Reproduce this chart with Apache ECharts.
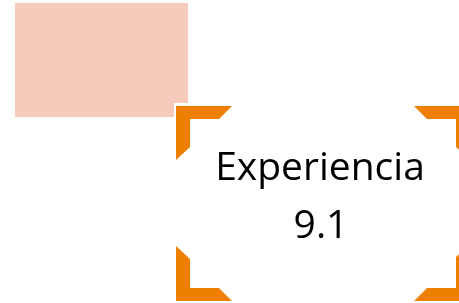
<!DOCTYPE html>
<html>
<head>
<meta charset="utf-8">
<script src="https://cdn.jsdelivr.net/npm/echarts@6/dist/echarts.min.js"></script>
<style>html,body{margin:0;padding:0;background:#fff}#c{width:459px;height:303px}</style>
</head>
<body>
<div id="c"></div>
<script>
const kpiLabels = ['Experiencia'];
const kpiValues = [9.1];

const chart = echarts.init(document.getElementById('c'), null, {renderer: 'canvas'});
const orange = '#EF7F00';
const FONT = '"Open Sans", sans-serif';
function poly(points) {
  return {type: 'polygon', shape: {points: points}, style: {fill: orange}, silent: true};
}
chart.setOption({
  animation: false,
  backgroundColor: '#ffffff',
  graphic: [
    {type: 'rect', shape: {x: 15, y: 3, width: 173, height: 114}, style: {fill: '#F7CBBB'}},
    {type: 'rect', shape: {x: 174, y: 103, width: 300, height: 210}, style: {fill: '#ffffff'}},
    poly([[176,106],[232,106],[219,119],[190,119],[190,147],[176,160]]),
    poly([[176,246],[190,259],[190,288],[219,288],[232,301],[176,301]]),
    poly([[470,106],[414,106],[427,119],[456,119],[456,147],[470,160]]),
    poly([[470,301],[414,301],[427,288],[456,288],[456,257],[470,244]]),
    {type: 'text', x: 320, y: 149, style: {text: kpiLabels[0], font: '39px ' + FONT, fill: '#000', align: 'center', verticalAlign: 'top'}},
    {type: 'text', x: 321, y: 207, style: {text: String(kpiValues[0]), font: '39px ' + FONT, fill: '#000', align: 'center', verticalAlign: 'top'}}
  ]
});
</script>
</body>
</html>
